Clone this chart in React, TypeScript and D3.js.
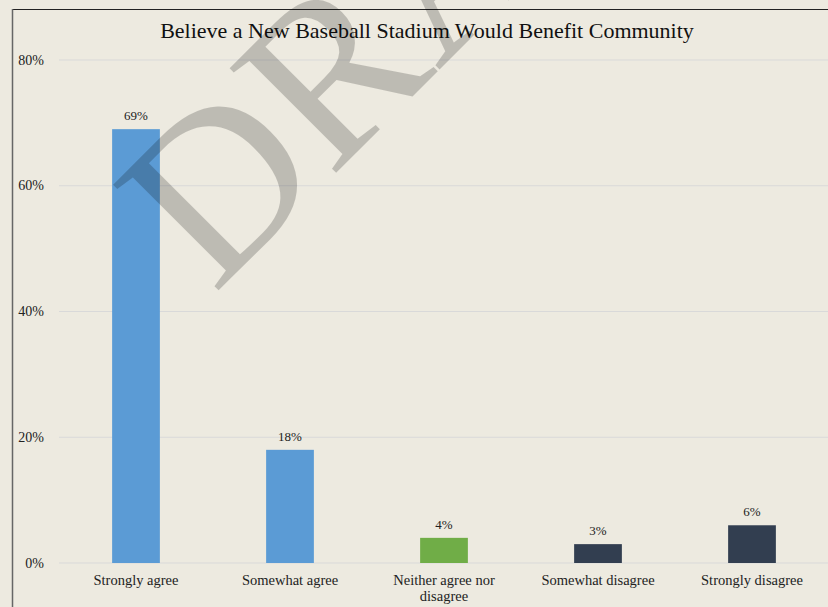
import React from "react";
import * as d3 from "d3";

const categories = ["Strongly agree", "Somewhat agree", "Neither agree nor disagree", "Somewhat disagree", "Strongly disagree"];
const values = [69, 18, 4, 3, 6];
const barColors = ["#5b9bd5", "#5b9bd5", "#70ad47", "#323e50", "#323e50"];
const yTicks = [0, 20, 40, 60, 80];
const title = "Believe a New Baseball Stadium Would Benefit Community";

const W = 828, H = 607;
const FONT = "'Liberation Serif', 'Times New Roman', serif";

function wrapLabel(s: string): string[] {
  if (s === "Neither agree nor disagree") return ["Neither agree nor", "disagree"];
  return [s];
}

export default function App() {
  const x = d3.scaleBand<string>().domain(categories).range([59, 829]).paddingInner(0.69).paddingOuter(0.345);
  const y = d3.scaleLinear().domain([0, 80]).range([563, 60]);
  return (
    <svg width={W} height={H} style={{ position: "absolute", left: 0, top: 0, display: "block" }} fontFamily={FONT}>
      <rect x={0} y={0} width={W} height={H} fill="#edeae0" />
      {yTicks.map((t) => (
        <g key={t}>
          <line x1={59} x2={W} y1={y(t)} y2={y(t)} stroke="#d9d9d9" strokeWidth={1} />
          <text x={44} y={y(t) + 4.5} textAnchor="end" fontSize={14} fill="#222">{t}%</text>
        </g>
      ))}
      {categories.map((c, i) => (
        <g key={c}>
          <rect x={x(c)!} y={y(values[i])} width={x.bandwidth()} height={y(0) - y(values[i])} fill={barColors[i]} />
          <text x={x(c)! + x.bandwidth() / 2} y={y(values[i]) - 9} textAnchor="middle" fontSize={13} fill="#222">{values[i]}%</text>
          {wrapLabel(c).map((l, j) => (
            <text key={j} x={x(c)! + x.bandwidth() / 2} y={585 + j * 16} textAnchor="middle" fontSize={14.5} fill="#222">{l}</text>
          ))}
        </g>
      ))}
      <text x={427} y={38} textAnchor="middle" fontSize={22} fill="#111">{title}</text>
      <line x1={12} x2={W} y1={9.5} y2={9.5} stroke="#222" strokeWidth={1} />
      <line x1={12.5} x2={12.5} y1={9} y2={H} stroke="#666" strokeWidth={1.5} />
      <text transform="translate(214,295) rotate(-45)" fontSize={228} fill="#000" fillOpacity={0.2}>DRAFT</text>
    </svg>
  );
}
